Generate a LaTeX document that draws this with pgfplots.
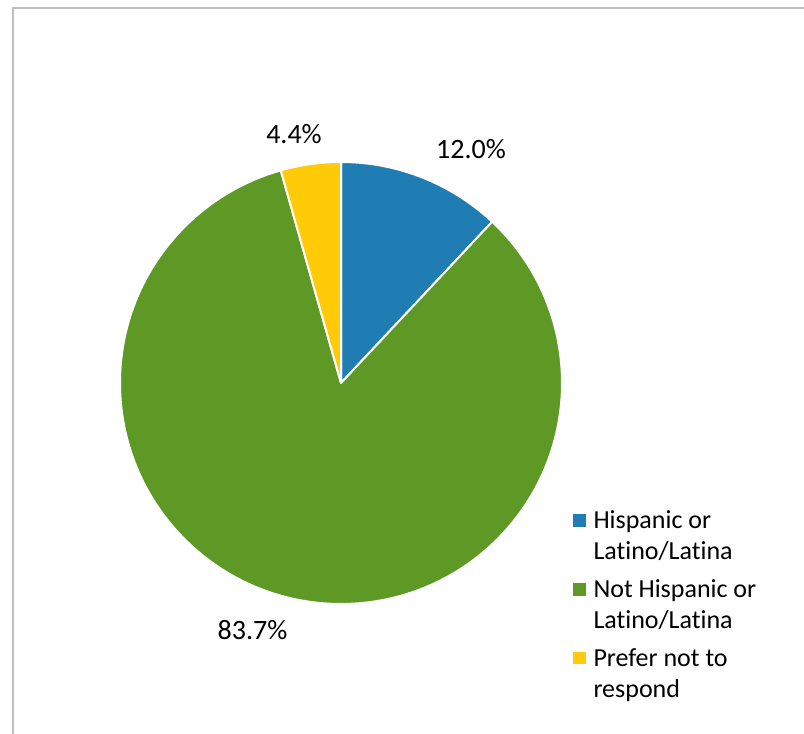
\documentclass[border=0pt]{standalone}
\usepackage{pgfplots}
\usepackage{pgfplotstable}
\pgfplotsset{compat=1.18}
\usepackage{fontspec}
\setmainfont{Carlito}[Ligatures=NoCommon]
\definecolor{hisp}{RGB}{31,125,180}
\definecolor{nothisp}{RGB}{93,153,36}
\definecolor{prefer}{RGB}{255,202,8}
\definecolor{framegray}{RGB}{191,191,191}

\pgfplotstableread{
label value
Hispanic 12.0
NotHispanic 83.7
Prefer 4.4
}\piedata

\begin{document}
\begin{tikzpicture}
\useasboundingbox (0,0) rectangle (804pt,734pt);
\clip (0,0) rectangle (804pt,734pt);
\fill[white] (0,0) rectangle (804pt,734pt);
\draw[framegray, line width=2pt] (13pt,726pt) rectangle (840pt,-30pt);

\pgfplotstablegetelem{0}{value}\of\piedata \let\vA\pgfplotsretval
\pgfplotstablegetelem{1}{value}\of\piedata \let\vB\pgfplotsretval
\pgfplotstablegetelem{2}{value}\of\piedata \let\vC\pgfplotsretval
\pgfmathsetmacro\tot{\vA+\vB+\vC}
\pgfmathsetmacro\aA{90}
\pgfmathsetmacro\aB{90-\vA/\tot*360}
\pgfmathsetmacro\aC{\aB-\vB/\tot*360}
\pgfmathsetmacro\aD{\aC-\vC/\tot*360}

\begin{axis}[
  x=1pt, y=1pt, xmin=0, xmax=804, ymin=0, ymax=734,
  anchor=origin, at={(0,0)},
  hide axis, clip=false,
  legend style={at={(axis cs:573,227)}, anchor=north west, draw=none, fill=none,
    inner sep=0pt, outer sep=0pt, nodes={inner sep=0pt, anchor=base west},
    font=\fontsize{26}{31}\selectfont,
    column sep=8.3pt, row sep=45.5pt, legend cell align=left},
]
\fill[hisp, draw=white, line width=2pt, line join=round]
  (axis cs:341,351) -- ++(\aA:221pt) arc[start angle=\aA, end angle=\aB, radius=221pt] -- cycle;
\fill[nothisp, draw=white, line width=2pt, line join=round]
  (axis cs:341,351) -- ++(\aB:221pt) arc[start angle=\aB, end angle=\aC, radius=221pt] -- cycle;
\fill[prefer, draw=white, line width=2pt, line join=round]
  (axis cs:341,351) -- ++(\aC:221pt) arc[start angle=\aC, end angle=\aD, radius=221pt] -- cycle;

\node[anchor=base, font=\fontsize{28}{32}\selectfont] at (axis cs:471,575) {12.0\%};
\node[anchor=base, font=\fontsize{28}{32}\selectfont] at (axis cs:294,590) {4.4\%};
\node[anchor=base, font=\fontsize{28}{32}\selectfont] at (axis cs:252.5,94) {83.7\%};

\addlegendimage{legend image code/.code={\fill[hisp] (0pt,2.5pt) rectangle (11.8pt,14pt);}}
\addlegendentry{\parbox[t]{200pt}{\strut Hispanic or\\Latino/Latina\strut}}
\addlegendimage{legend image code/.code={\fill[nothisp] (0pt,2.5pt) rectangle (11.8pt,14pt);}}
\addlegendentry{\parbox[t]{200pt}{\strut Not Hispanic or\\Latino/Latina\strut}}
\addlegendimage{legend image code/.code={\fill[prefer] (0pt,2.5pt) rectangle (11.8pt,14pt);}}
\addlegendentry{\parbox[t]{200pt}{\strut Prefer not to\\respond\strut}}
\end{axis}
\end{tikzpicture}
\end{document}
